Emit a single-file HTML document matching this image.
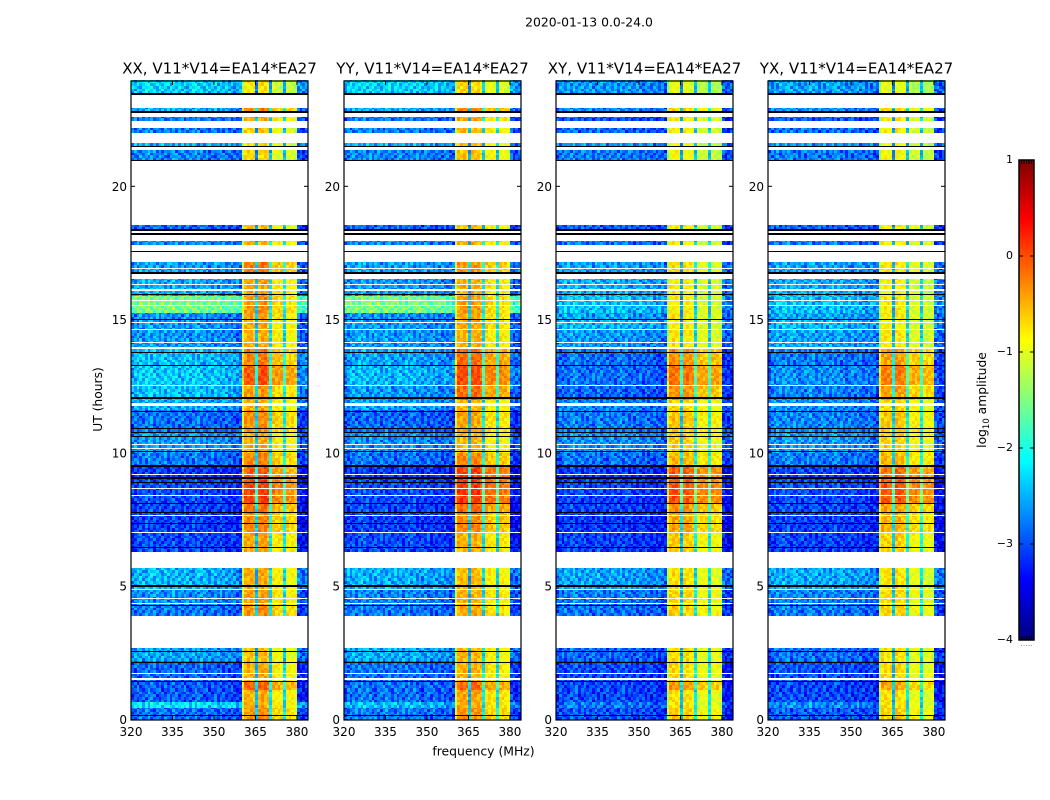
<!DOCTYPE html>
<html lang="en">
<head>
<meta charset="utf-8">
<title>2020-01-13 0.0-24.0</title>
<style>
html,body{margin:0;padding:0;background:#fff;}
svg{display:block;}
text{font-family:"DejaVu Sans","Liberation Sans",sans-serif;fill:#000;}
</style>
</head>
<body>
<svg id="chart" width="1050" height="800" viewBox="0 0 1050 800" xmlns="http://www.w3.org/2000/svg">
  <text x="589" y="26.5" font-size="12.4" text-anchor="middle">2020-01-13 0.0-24.0</text>
  <text transform="translate(102,399.5) rotate(-90)" font-size="12.3" text-anchor="middle">UT (hours)</text>
  <text x="483.5" y="755.5" font-size="12.4" text-anchor="middle">frequency (MHz)</text>
  <text transform="translate(986,400) rotate(-90)" font-size="12.3" text-anchor="middle">log<tspan font-size="8.5" dy="3">10</tspan><tspan dy="-3"> amplitude</tspan></text>
  <g id="panels"></g>
  <g id="colorbar"></g>
</svg>
<script>
// ---- categories and tick labels ----
const polarizations = ["XX", "YY", "XY", "YX"];
const baselineLabel = "V11*V14=EA14*EA27";
const freqTicks = [320, 335, 350, 365, 380];
const utTicks = [0, 5, 10, 15, 20];
const colorbarTicks = [1, 0, -1, -2, -3, -4];

// ---- observed time blocks (UT hours) ----
const blockLow  = [0,.45,.65,1.1,1.45,2.2,3.89,4.3,4.9,6.3,7,7.7,8.1,9,9.5,10,10.8,11.6,12,12.5,13.3,13.9,14.6,15,15.25,15.9,16.75,17.8,18.36,20.96,21.51,22,22.46,22.79,23.46];
const blockHigh = [.45,.65,1.1,1.45,2.2,2.68,4.3,4.9,5.67,7,7.7,8.1,9,9.5,10,10.8,11.6,12,12.5,13.3,13.9,14.6,15,15.25,15.9,16.52,17.16,17.95,18.55,21.37,21.62,22.2,22.61,22.94,23.97];

// ---- log10 amplitude of the quiet channels per block ----
const bgXX = [-2.9,-2.3,-3,-3,-2.95,-2.65,-2.85,-2.75,-2.55,-3.1,-3.15,-3.1,-3.1,-3.2,-2.85,-2.7,-2.9,-2.6,-2.5,-2.45,-2.5,-2.7,-2.7,-2.75,-1.6,-2.6,-2.65,-2.75,-2.95,-2.8,-2.6,-2.85,-2.85,-2.6,-2.4];
const bgYY = [-2.85,-2.5,-2.9,-2.9,-2.9,-2.6,-2.85,-2.8,-2.6,-3.1,-3.15,-3.1,-3.1,-3.2,-2.9,-2.75,-2.95,-2.65,-2.7,-2.55,-2.65,-2.7,-2.7,-2.75,-1.6,-2.7,-2.65,-2.75,-2.95,-2.8,-2.6,-2.85,-2.85,-2.6,-2.4];
const bgXY = [-3.05,-2.85,-3.1,-3.1,-3.1,-2.95,-2.9,-2.85,-2.65,-3.15,-3.2,-3.15,-3.15,-3.2,-2.9,-2.75,-2.85,-2.8,-2.95,-2.9,-2.9,-2.7,-2.55,-2.65,-2.5,-2.6,-2.65,-2.85,-3,-2.85,-2.7,-2.95,-3.05,-2.8,-2.7];
const bgYX = [-3,-2.75,-3.1,-3.1,-3.05,-2.9,-2.85,-2.8,-2.6,-3.15,-3.15,-3.1,-3.1,-3.15,-2.85,-2.7,-2.8,-2.75,-2.8,-2.75,-2.85,-2.65,-2.55,-2.65,-2.5,-2.6,-2.65,-2.85,-3,-2.85,-2.7,-2.9,-3,-2.75,-2.65];

// ---- log10 amplitude of the bright channels (360-380 MHz) per block ----
const bandXX = [-.55,-.7,-.7,-.35,-.7,-.8,-.55,-.65,-.7,-.65,-.5,-.4,-.15,-.3,-.5,-.7,-.55,-.7,-.6,-.25,-.45,-.7,-.7,-.65,-.55,-.65,-.45,-.7,-.8,-.9,-.9,-.85,-.7,-.5,-1];
const bandYY = [-.55,-.7,-.65,-.35,-.7,-.75,-.65,-.7,-.75,-.7,-.5,-.35,-.1,-.15,-.5,-.75,-.65,-.75,-.35,-.2,-.35,-.7,-.65,-.65,-.6,-.7,-.55,-.7,-.8,-.8,-.8,-.75,-.65,-.5,-.9];
const bandXY = [-.8,-.9,-.9,-.55,-.85,-.9,-.8,-.85,-.9,-.8,-.6,-.5,-.2,-.25,-.7,-.8,-.75,-.85,-.5,-.35,-.5,-.95,-1,-.95,-1,-1,-.9,-1,-1,-1.05,-1.1,-1,-.95,-.85,-1.15];
const bandYX = [-.8,-.9,-.9,-.6,-.85,-.9,-.8,-.85,-.9,-.8,-.65,-.55,-.2,-.3,-.7,-.8,-.75,-.85,-.55,-.4,-.55,-.95,-1,-.95,-.95,-1,-.9,-1,-1,-1.05,-1.1,-1,-.95,-.85,-1.15];

// ---- channel shape: offsets per 1 MHz channel ----
const quietShape = [-.1,0,.03,.08,.03,.1,.15,.1,.05,.05,.03,.05,.05,0,.05,.1,.05,0,0,.05,.05,0,.05,.1,.05,.05,0,0,-.05,0,0,-.05,0,-.05,-.05,-.1,-.05,-.1,-.15,-.2];
const tailShape = [-.2,-.3,-.3,-.25];
const brightXX = [-.4,.15,.2,.2,.15,-1.8,.2,.25,.25,.15,-1.6,-.1,-.15,-.15,-.15,-1.6,-.2,-.2,-.2,-.3];
const brightYY = [-.4,.2,.2,.2,.15,-1.8,.2,.2,.2,.1,-1.6,-.05,-.1,-.1,-.15,-1.6,-.1,-.1,-.15,-.25];
const brightXY = [-.4,.15,.2,.15,.1,-1.6,.15,.15,.1,.05,-1.4,-.1,-.1,-.1,-.1,-1.4,-.1,-.1,-.1,-.2];
const brightYX = [-.4,.15,.15,.1,.1,-1.6,.2,.15,.1,.05,-1.4,-.1,-.1,-.1,-.1,-1.4,-.15,-.15,-.15,-.2];

// ---- hand-typed speckle tile, tenths of a decade ----
const speckleTile = [
 [2,-3,1,4,-2,0,3,-4,1,2,-1,-3,4,0,-2,3,-1],
 [-1,3,-4,0,2,-3,1,2,-2,4,0,-4,1,3,-3,0,2],
 [3,0,2,-3,-1,4,-2,0,3,-3,2,1,-4,2,0,-2,4],
 [-4,2,0,1,3,-2,-3,4,0,1,-3,3,0,-2,4,1,-3],
 [1,-1,3,-2,0,2,4,-3,-1,3,0,-2,2,4,-4,1,0],
 [0,4,-3,2,-4,1,0,2,3,-4,1,4,-1,-3,2,0,3],
 [-2,1,0,3,1,-3,2,-4,4,0,-2,2,3,-1,0,-4,1],
 [4,-2,2,-1,3,0,-4,1,-3,2,4,-1,0,2,-3,3,-2],
 [-3,0,1,4,-2,3,1,-1,2,-2,0,3,-4,1,4,-2,0],
 [2,3,-4,0,1,-1,4,-2,0,3,-3,1,2,-2,0,3,-1],
 [0,-2,4,1,-3,2,-1,3,-4,0,2,-3,4,1,-1,-2,3],
 [1,4,-1,-3,0,3,-2,0,2,4,-4,0,-1,3,2,-3,1],
 [-3,1,3,-2,4,-4,0,2,-1,1,3,-2,1,-3,4,0,2]
];

// ---- flagged times (UT hours): black and white lines ----
const blackFlagTimes = [.13,1.40,2.12,2.53,4.27,4.99,6.41,7.32,7.76,8.08,8.87,9.0,9.45,10.01,10.58,10.73,10.88,11.52,12.0,13.27,13.75,14.96,15.9,16.71,17.54,18.17,18.32,20.95,21.48,22.75,23.43];
const blackFlagSpans = [.04,.05,.04,.04,.04,.07,.05,.04,.04,.04,.04,.08,.08,.05,.04,.04,.04,.05,.08,.04,.04,.05,.05,.08,.04,.08,.08,.05,.04,.06,.08];
const whiteFlagTimes = [1.71,1.48,4.33,4.53,4.86,6.98,7.63,8.38,8.65,9.18,10.15,10.3,11.74,12.51,13.9,14.12,14.61,14.88,15.5,15.7,16.07,16.3,16.9];
const whiteFlagSpans = [.04,.08,.04,.04,.04,.04,.04,.04,.04,.04,.04,.04,.12,.04,.08,.04,.04,.04,.04,.04,.08,.04,.05];

const bgByPol = {XX:bgXX, YY:bgYY, XY:bgXY, YX:bgYX};
const bandByPol = {XX:bandXX, YY:bandYY, XY:bandXY, YX:bandYX};
const brightByPol = {XX:brightXX, YY:brightYY, XY:brightXY, YX:brightYX};

// ---- layout ----
const NS = "http://www.w3.org/2000/svg";
const panelLeft = [131, 344, 556, 768];
const panelWidth = 177, plotTop = 81, plotBottom = 720;
const utZero = 719.5, pxPerHour = 26.66;
const cbLeft = 1019, cbRight = 1034, cbTop = 160, cbBottom = 640;

function xScale(mhz, left) { return left + (mhz - 320) * panelWidth / 64; }
function yScale(ut) { return utZero - ut * pxPerHour; }
function cbScale(v) { return cbBottom - (v + 4) * (cbBottom - cbTop) / 5; }

function clamp01(v) { return Math.max(0, Math.min(1, v)); }
function jet(level) {
  const t = clamp01((level + 4) / 5);
  const r = clamp01(Math.min(4 * t - 1.5, -4 * t + 4.5));
  const g = clamp01(Math.min(4 * t - 0.5, -4 * t + 3.5));
  const b = clamp01(Math.min(4 * t + 0.5, -4 * t + 2.5));
  return "rgb(" + Math.round(r * 255) + "," + Math.round(g * 255) + "," + Math.round(b * 255) + ")";
}

function mk(tag, parent, attrs) {
  const el = document.createElementNS(NS, tag);
  for (const k in attrs) el.setAttribute(k, attrs[k]);
  parent.appendChild(el);
  return el;
}

function cellLevel(pol, block, channel, row, panelIndex) {
  const tile = speckleTile[(row + panelIndex * 5) % speckleTile.length];
  const speck = tile[(channel + row * 3 + panelIndex * 7) % tile.length] * 0.1;
  if (channel >= 40 && channel < 60) {
    return bandByPol[pol][block] + brightByPol[pol][channel - 40] + speck * 0.5;
  }
  const shape = channel < 40 ? quietShape[channel] : tailShape[channel - 60];
  return bgByPol[pol][block] + shape + speck;
}

const panelsRoot = document.getElementById("panels");

polarizations.forEach(function (pol, p) {
  const left = panelLeft[p];
  const right = left + panelWidth;
  const g = mk("g", panelsRoot, {});
  
  

  // heatmap cells
  const cells = mk("g", g, {"shape-rendering": "crispEdges"});
  
  
  blockLow.forEach(function (low, b) {
    const high = blockHigh[b];
    for (let ut = low; ut < high - 1e-6; ut += 0.1) {
      const rowIdx = Math.round(ut * 10);
      const yA = Math.round(yScale(Math.min(ut + 0.1, high)));
      const yB = Math.round(yScale(ut));
      if (yB <= yA) continue;
      for (let c = 0; c < 64; c++) {
        const xA = Math.round(xScale(320 + c, left));
        const xB = Math.round(xScale(321 + c, left));
        const cell = mk("rect", cells, {x: xA, y: yA, width: xB - xA, height: yB - yA, fill: jet(cellLevel(pol, b, c, rowIdx, p))});
        
        
      }
    }
  });

  // flag lines
  whiteFlagTimes.forEach(function (ut, i) {
    const yA = Math.round(yScale(ut + whiteFlagSpans[i]));
    const thick = Math.max(1, Math.round(whiteFlagSpans[i] * pxPerHour));
    const line = mk("rect", cells, {x: left, y: yA, width: panelWidth, height: thick, fill: "#fff"});
    
    
  });
  blackFlagTimes.forEach(function (ut, i) {
    const yA = Math.round(yScale(ut + blackFlagSpans[i]));
    const thick = Math.max(1, Math.round(blackFlagSpans[i] * pxPerHour));
    const line = mk("rect", cells, {x: left, y: yA, width: panelWidth, height: thick, fill: "#000"});
    
    
  });

  // frame
  const frame = mk("rect", g, {x: left, y: plotTop, width: panelWidth, height: plotBottom - plotTop, fill: "none", stroke: "#000", "stroke-width": 1.2});
  
  

  // title
  const title = mk("text", g, {x: left + panelWidth / 2, y: 73.5, "font-size": 15.05, "text-anchor": "middle"});
  
  
  title.textContent = pol + ", " + baselineLabel;

  // x ticks
  freqTicks.forEach(function (f) {
    const x = xScale(f, left);
    const tickB = mk("line", g, {x1: x, x2: x, y1: plotBottom, y2: plotBottom - 4, stroke: "#000", "stroke-width": 1});
    
    
    const tickT = mk("line", g, {x1: x, x2: x, y1: plotTop, y2: plotTop + 4, stroke: "#000", "stroke-width": 1});
    
    
    const lab = mk("text", g, {x: x, y: 736, "font-size": 12, "text-anchor": "middle"});
    
    
    lab.textContent = f;
  });

  // y ticks
  utTicks.forEach(function (u) {
    const y = yScale(u);
    const tickL = mk("line", g, {x1: left, x2: left + 4, y1: y, y2: y, stroke: "#000", "stroke-width": 1});
    
    
    const tickR = mk("line", g, {x1: right, x2: right - 4, y1: y, y2: y, stroke: "#000", "stroke-width": 1});
    
    
    const lab = mk("text", g, {x: left - 4, y: y + 4.5, "font-size": 12, "text-anchor": "end"});
    
    
    lab.textContent = u;
  });
});

// ---- colorbar ----
const cb = document.getElementById("colorbar");
const cbStrips = mk("g", cb, {"shape-rendering": "crispEdges"});
for (let y = cbTop; y < cbBottom; y++) {
  const level = 1 - (y + 0.5 - cbTop) * 5 / (cbBottom - cbTop);
  const strip = mk("rect", cbStrips, {x: cbLeft, y: y, width: cbRight - cbLeft, height: 1, fill: jet(level)});
  
  
}
const cbFrame = mk("rect", cb, {x: cbLeft, y: cbTop, width: cbRight - cbLeft, height: cbBottom - cbTop, fill: "none", stroke: "#000", "stroke-width": 1.5});


colorbarTicks.forEach(function (v) {
  const y = cbScale(v);
  const tickL = mk("line", cb, {x1: cbLeft, x2: cbLeft + 4, y1: y, y2: y, stroke: "#000", "stroke-width": 1});
  
  
  const tickR = mk("line", cb, {x1: cbRight, x2: cbRight - 4, y1: y, y2: y, stroke: "#000", "stroke-width": 1});
  
  
  const lab = mk("text", cb, {x: 1013, y: y + 3, "font-size": 11, "text-anchor": "end"});
  
  
  lab.textContent = String(v).replace("-", "\u2212");
});
for (let i = 1; i < 6; i++) {
  const xTick = cbLeft + i * (cbRight - cbLeft) / 6;
  const top = mk("line", cb, {x1: xTick, x2: xTick, y1: cbTop, y2: cbTop + 4, stroke: "#000", "stroke-width": 1});
  
  
  const bottom = mk("line", cb, {x1: xTick, x2: xTick, y1: cbBottom, y2: cbBottom - 4, stroke: "#000", "stroke-width": 1});
  
  
  const dot = mk("rect", cb, {x: xTick - 0.5, y: 645, width: 1, height: 1, fill: "#999"});
  
  
}
</script>
</body>
</html>
